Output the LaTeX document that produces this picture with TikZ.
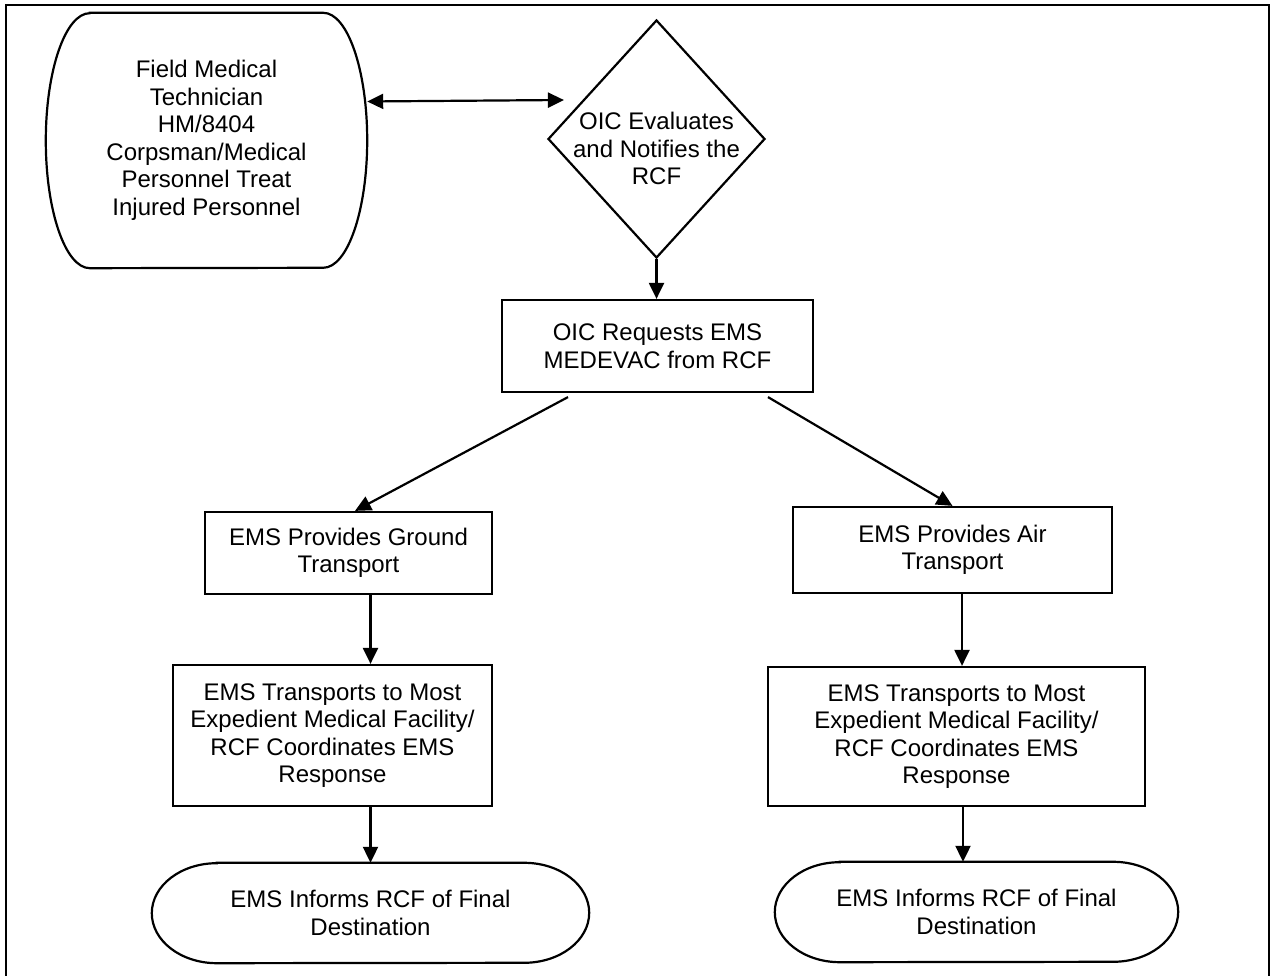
\documentclass[tikz,border=0pt]{standalone}
\usepackage{fontspec}
\setmainfont{Liberation Sans}
\usetikzlibrary{arrows.meta,shapes.geometric}
\begin{document}
\begin{tikzpicture}[x=1pt,y=1pt,
  every node/.style={font=\fontsize{24}{27.5}\selectfont,align=center,inner sep=0pt},
  >={Triangle[length=16pt,width=15pt]},
  thickline/.style={line width=2.2pt},
  arr/.style={line width=2.2pt,->},
  procbox/.style={draw,line width=2.2pt,rectangle},
  decision/.style={draw,line width=2.2pt,diamond,inner sep=-12pt,minimum width=217,minimum height=238},
  term/.style={rectangle}]
  \useasboundingbox (0,0) rectangle (1273,976);
  \draw[thickline] (6,0) -- (6,971) -- (1269,971) -- (1269,0);
  \node[term,minimum width=321,minimum height=255] (fmt) at (206.5,835.5) {Field Medical\\Technician\\HM/8404\\Corpsman/Medical\\Personnel Treat\\Injured Personnel};
  \node[decision] (eval) at (656.5,837) {\rule{0pt}{37pt}OIC Evaluates\\and Notifies the\\RCF};
  \node[procbox,minimum width=311,minimum height=92] (req) at (657.5,630) {OIC Requests EMS\\MEDEVAC from RCF};
  \node[procbox,minimum width=287,minimum height=82] (ground) at (348.5,423) {EMS Provides Ground\\Transport};
  \node[procbox,minimum width=319,minimum height=86] (air) at (952.5,426) {EMS Provides Air\\Transport};
  \node[procbox,minimum width=319,minimum height=141] (trL) at (332.5,240.5) {EMS Transports to Most\\Expedient Medical Facility/\\RCF Coordinates EMS\\Response};
  \node[procbox,minimum width=377,minimum height=139] (trR) at (956.5,239.5) {EMS Transports to Most\\Expedient Medical Facility/\\RCF Coordinates EMS\\Response};
  \node[term,minimum width=437,minimum height=100] (infoL) at (370.5,63) {EMS Informs RCF of Final\\Destination};
  \node[term,minimum width=403,minimum height=100] (infoR) at (976.5,64) {EMS Informs RCF of Final\\Destination};
  \foreach \n/\rx/\ry in {fmt/44/127.5,infoL/65/50,infoR/65/50}
    \draw[thickline] ([xshift=\rx pt]\n.north west) -- ([xshift=-\rx pt]\n.north east)
      arc[start angle=90,end angle=-90,x radius=\rx,y radius=\ry]
      -- ([xshift=\rx pt]\n.south west)
      arc[start angle=270,end angle=90,x radius=\rx,y radius=\ry] -- cycle;
  \draw[arr,<->] ([yshift=39]fmt.east) -- ([xshift=17,yshift=39]eval.west);
  \draw[arr] (eval.south) -- (eval.south |- req.north);
  \draw[arr] ([xshift=-89.5,yshift=-4]req.south) -- ([xshift=6.5]ground.north);
  \draw[arr] ([xshift=110.5,yshift=-4]req.south) -- (air.north);
  \draw[arr] ([xshift=22]ground.south) -- ([xshift=22]ground.south |- trL.north);
  \draw[arr] ([xshift=9.5]air.south) -- ([xshift=9.5]air.south |- trR.north);
  \draw[arr] (trL.south -| infoL.north) -- (infoL.north);
  \draw[arr] ([xshift=6.5]trR.south) -- ([xshift=6.5]trR.south |- infoR.north);
\end{tikzpicture}
\end{document}
